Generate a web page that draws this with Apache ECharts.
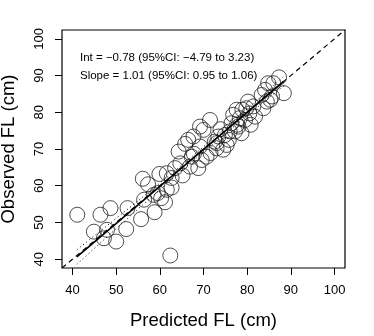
<!DOCTYPE html>
<html>
<head>
<meta charset="utf-8">
<script src="https://cdn.jsdelivr.net/npm/echarts@6/dist/echarts.min.js"></script>
<style>
  html, body { margin: 0; padding: 0; background: #ffffff; }
  #chart { width: 374px; height: 336px; }
</style>
</head>
<body>
<div id="chart"></div>
<script>
// Axis range and tick labels
const tickValues = [40, 50, 60, 70, 80, 90, 100];
const axisMin = 37.6;
const axisMax = 102.4;

// Predicted vs observed fork length (cm)
const predicted = [
  41.1, 62.4, 44.9, 46.4, 48.7, 47.2, 47.9, 50.0, 52.3, 52.6,
  55.7, 56.1, 57.3, 58.8, 58.6, 59.9, 60.3, 61.2, 61.6, 61.6,
  62.7, 62.7, 64.3, 65.2, 65.8, 66.5, 66.9, 67.3, 67.7, 67.8,
  69.2, 68.8, 69.2, 69.6, 70.7, 71.5, 71.6, 72.6, 73.0, 73.4,
  73.9, 74.5, 75.3, 76.0, 76.4, 76.8, 77.2, 77.6, 78.0, 78.3,
  78.7, 78.9, 79.5, 80.2, 80.5, 80.8, 81.4, 81.8, 83.3, 83.7,
  84.1, 84.5, 84.8, 85.7, 86.0, 87.3, 88.4, 85.3, 79.8, 77.7,
  75.8, 73.0, 64.7, 63.5, 59.5, 56.4, 70.0, 74.9
];
const observed = [
  52.1, 41.0, 47.5, 52.1, 53.9, 45.7, 48.0, 44.8, 48.2, 53.9,
  50.9, 61.9, 60.4, 52.8, 57.5, 63.2, 56.6, 55.5, 58.9, 63.4,
  62.1, 59.5, 69.3, 62.8, 71.4, 72.5, 65.2, 67.9, 73.4, 68.7,
  76.1, 64.8, 70.7, 67.0, 67.9, 77.9, 68.9, 72.0, 70.2, 73.4,
  75.4, 69.8, 71.1, 74.8, 77.0, 79.3, 74.8, 80.7, 76.1, 78.4,
  74.3, 80.7, 77.9, 82.9, 79.7, 76.6, 81.6, 78.8, 84.7, 81.1,
  86.1, 82.9, 87.9, 84.3, 87.9, 89.5, 85.2, 83.4, 81.1, 76.6,
  72.5, 71.6, 66.1, 64.8, 58.0, 56.2, 75.2, 73.8
];

// Fitted regression (observed = intercept + slope * predicted)
const fitIntercept = -0.78;
const fitSlope = 1.01;
const fitFrom = 41.0;
const fitTo = 88.4;

// 95% confidence band around the fitted line
const bandX     = [41.0, 50.0, 60.0, 70.0, 80.0, 88.4];
const bandUpper = [42.6, 51.1, 60.7, 70.6, 80.9, 89.8];
const bandLower = [38.6, 48.3, 58.9, 69.2, 79.1, 87.2];

const annotationLines = [
  'Int = \u22120.78 (95%CI: \u22124.79 to 3.23)',
  'Slope = 1.01 (95%CI: 0.95 to 1.06)'
];

const FONT = '"Liberation Sans", Arial, Helvetica, sans-serif';

const points = predicted.map((x, i) => [x, observed[i]]);
const fitLine = [fitFrom, fitTo].map(x => [x, fitIntercept + fitSlope * x]);
const upperLine = bandX.map((x, i) => [x, bandUpper[i]]);
const lowerLine = bandX.map((x, i) => [x, bandLower[i]]);
const identityLine = [[axisMin, axisMin], [axisMax, axisMax]];

function valueAxis(extra) {
  return Object.assign({
    type: 'value',
    min: axisMin,
    max: axisMax,
    splitLine: { show: false },
    axisLine: { show: false },
    axisTick: {
      show: true,
      inside: false,
      length: 7,
      customValues: tickValues,
      lineStyle: { color: '#000', width: 1 }
    },
    axisLabel: {
      customValues: tickValues,
      color: '#000',
      fontSize: 13,
      fontFamily: FONT,
      margin: 16
    },
    nameLocation: 'middle',
    nameTextStyle: { color: '#000', fontSize: 18.5, fontFamily: FONT }
  }, extra);
}

const chart = echarts.init(document.getElementById('chart'), null, { renderer: 'canvas' });

chart.setOption({
  animation: false,
  backgroundColor: '#ffffff',
  grid: {
    show: true,
    left: 62, right: 29, top: 30, bottom: 68,
    containLabel: false,
    outerBoundsMode: 'none',
    borderColor: '#000',
    borderWidth: 1.2,
    backgroundColor: 'transparent'
  },
  xAxis: valueAxis({ name: 'Predicted FL (cm)', nameGap: 43 }),
  yAxis: valueAxis({
    name: 'Observed FL (cm)',
    nameGap: 44,
    axisLabel: {
      customValues: tickValues,
      color: '#000',
      fontSize: 13,
      fontFamily: FONT,
      margin: 16,
      rotate: 90
    }
  }),
  graphic: annotationLines.map((t, i) => ({
    type: 'text',
    left: 80,
    top: 52 + i * 18,
    style: { text: t, fill: '#000', font: '11.5px ' + FONT }
  })),
  series: [
    {
      type: 'scatter',
      data: points,
      symbol: 'circle',
      symbolSize: 15,
      itemStyle: { color: 'transparent', borderColor: '#222', borderWidth: 1 },
      z: 2
    },
    {
      type: 'line',
      data: identityLine,
      showSymbol: false,
      lineStyle: { color: '#000', width: 1.2, type: [5, 4] },
      z: 3
    },
    {
      type: 'line',
      data: fitLine,
      showSymbol: false,
      lineStyle: { color: '#000', width: 1.6, type: 'solid' },
      z: 4
    },
    {
      type: 'line',
      data: upperLine,
      showSymbol: false,
      smooth: true,
      lineStyle: { color: '#000', width: 1, type: [1, 3] },
      z: 3
    },
    {
      type: 'line',
      data: lowerLine,
      showSymbol: false,
      smooth: true,
      lineStyle: { color: '#000', width: 1, type: [1, 3] },
      z: 3
    }
  ]
});
</script>
</body>
</html>
